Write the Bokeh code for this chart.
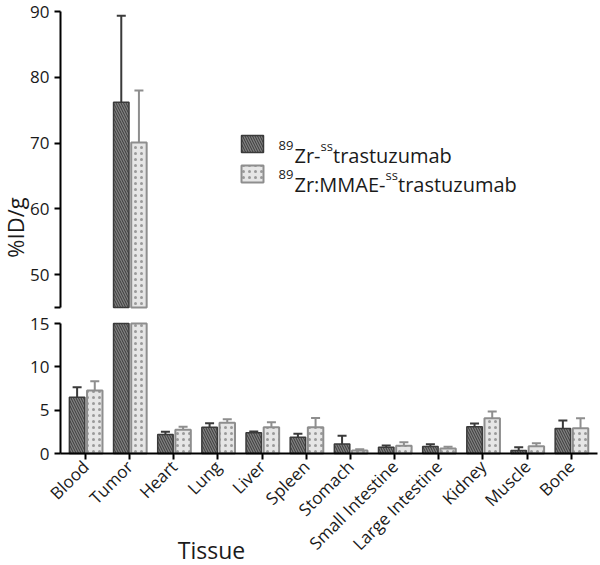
from math import pi
from bokeh.plotting import figure
from bokeh.models import (ColumnDataSource, FixedTicker, Whisker, TeeHead, Label,
                          BoxAnnotation, CDSView, BooleanFilter, Range1d)
from bokeh.transform import dodge
from bokeh.layouts import column
from bokeh.embed import file_html
from bokeh.resources import INLINE

# ---------------- data ----------------
tissues = ["Blood", "Tumor", "Heart", "Lung", "Liver", "Spleen", "Stomach",
           "Small Intestine", "Large Intestine", "Kidney", "Muscle", "Bone"]
zr_mean = [6.5, 76.2, 2.19, 3.04, 2.38, 1.88, 1.11, 0.73, 0.81, 3.08, 0.35, 2.88]
zr_sd = [1.15, 13.15, 0.31, 0.46, 0.16, 0.39, 0.93, 0.19, 0.26, 0.38, 0.38, 0.92]
mmae_mean = [7.27, 70.1, 2.73, 3.54, 3.04, 3.04, 0.35, 0.88, 0.58, 4.07, 0.85, 2.92]
mmae_sd = [1.08, 7.9, 0.35, 0.42, 0.56, 1.06, 0.15, 0.42, 0.19, 0.77, 0.34, 1.15]
upper_ticks = [45, 50, 60, 70, 80, 90]
lower_ticks = [0, 5, 10, 15]
upper_lim = (45, 90)
lower_lim = (0, 15)
legend1 = ["89", "Zr-", "ss", "trastuzumab"]
legend2 = ["89", "Zr:MMAE-", "ss", "trastuzumab"]
y_title = "%ID/g"
x_title = "Tissue"

FONT = "Open Sans"
TXT = "#1a1a1a"
DARK_FILL, DARK_LINE, DARK_HATCH = "#808080", "#3a3a3a", "#3a3a3a"
LIGHT_FILL, LIGHT_LINE, LIGHT_DOT = "#e6e6e6", "#8e8e8e", "#9a9a9a"

idx = list(range(len(tissues)))
src = ColumnDataSource(dict(
    idx=idx, tissue=tissues,
    zr=zr_mean, zr_top=[m + s for m, s in zip(zr_mean, zr_sd)],
    mm=mmae_mean, mm_top=[m + s for m, s in zip(mmae_mean, mmae_sd)],
    # bar tops as seen in the lower (0-15) segment of the broken axis
    zr_low=[min(m, lower_lim[1]) for m in zr_mean],
    mm_low=[min(m, lower_lim[1]) for m in mmae_mean],
))

# ---------------- layout (pixels) ----------------
W = 600
PX_X = 44.16                 # px per category
FIRST_X = 85                 # px of first category centre
AX_LEFT_PX, AX_RIGHT_PX = 60, 597
x_start = -FIRST_X / PX_X
x_end = x_start + W / PX_X
x_lo = x_start + AX_LEFT_PX / PX_X
x_hi = x_start + AX_RIGHT_PX / PX_X
x_range = Range1d(x_start, x_end)

TOP_H, U_TOP_PX, U_BOT_PX = 310, 11, 307      # upper canvas, y of 90 and 45
BOT_H, L_TOP_PX, L_BOT_PX = 255, 13, 143      # lower canvas, y of 15 and 0 (canvas-relative)
u_unit = (U_BOT_PX - U_TOP_PX) / (upper_lim[1] - upper_lim[0])
u_range = Range1d(upper_lim[0] - (TOP_H - U_BOT_PX) / u_unit,
                  upper_lim[1] + U_TOP_PX / u_unit)
l_unit = (L_BOT_PX - L_TOP_PX) / (lower_lim[1] - lower_lim[0])
l_range = Range1d(lower_lim[0] - (BOT_H - L_BOT_PX) / l_unit,
                  lower_lim[1] + L_TOP_PX / l_unit)

OFF_D, OFF_L, BW = -0.19, 0.21, 0.35


def draw(p, top_d, top_l, base, lo):
    view_d = CDSView(filter=BooleanFilter([m > lo for m in zr_mean]))
    view_l = CDSView(filter=BooleanFilter([m > lo for m in mmae_mean]))
    p.vbar(x=dodge("idx", OFF_D), top=top_d, bottom=base,
           width=BW, source=src, view=view_d, fill_color=DARK_FILL,
           line_color=DARK_LINE, line_width=1.5, hatch_pattern="\\",
           hatch_color=DARK_HATCH, hatch_scale=5, hatch_weight=1)
    p.vbar(x=dodge("idx", OFF_L), top=top_l, bottom=base,
           width=BW, source=src, view=view_l, fill_color=LIGHT_FILL,
           line_color=LIGHT_LINE, line_width=2, hatch_pattern=".",
           hatch_color=LIGHT_DOT, hatch_scale=6, hatch_weight=1.5)
    p.add_layout(Whisker(source=src, base=dodge("idx", OFF_D),
                         lower="zr", upper="zr_top", line_color=DARK_LINE,
                         line_width=2, lower_head=None,
                         upper_head=TeeHead(size=9, line_color=DARK_LINE, line_width=2)))
    p.add_layout(Whisker(source=src, base=dodge("idx", OFF_L),
                         lower="mm", upper="mm_top", line_color=LIGHT_LINE,
                         line_width=2, lower_head=None,
                         upper_head=TeeHead(size=9, line_color=LIGHT_LINE, line_width=2)))


def style(p, ticks, lim):
    p.grid.grid_line_color = None
    p.outline_line_color = None
    p.yaxis.ticker = FixedTicker(ticks=ticks)
    p.yaxis.bounds = lim
    p.yaxis.fixed_location = x_lo
    for ax in p.axis:
        ax.axis_line_width = 2
        ax.axis_line_color = "black"
        ax.major_tick_line_width = 2
        ax.major_tick_line_color = "black"
        ax.major_tick_out = 6
        ax.major_tick_in = 0
        ax.minor_tick_line_color = None
        ax.major_label_text_font = FONT
        ax.major_label_text_font_size = "17px"
        ax.major_label_text_color = TXT


# ---------- upper panel (45-90) ----------
top = figure(x_range=x_range, y_range=u_range, frame_width=W, frame_height=TOP_H,
             min_border=0, x_axis_location=None,
             output_backend="svg", toolbar_location=None)
draw(top, "zr", "mm", upper_lim[0], upper_lim[0])
style(top, upper_ticks, upper_lim)
top.yaxis.major_label_overrides = {45: ""}

# ---------- lower panel (0-15) ----------
bot = figure(x_range=x_range, y_range=l_range, frame_width=W, frame_height=BOT_H,
             min_border=0, output_backend="svg", toolbar_location=None)
draw(bot, "zr_low", "mm_low", lower_lim[0], -1)
style(bot, lower_ticks, lower_lim)
bot.xaxis.ticker = FixedTicker(ticks=idx)
bot.xaxis.major_label_overrides = {i: t for i, t in zip(idx, tissues)}
bot.xaxis.bounds = (x_lo, x_hi)
bot.xaxis.fixed_location = 0
bot.xaxis.major_label_orientation = pi / 4
bot.xaxis.major_label_standoff = 4

# titles
bot.add_layout(Label(x=211, y=16, x_units="screen", y_units="screen", text=x_title,
                     text_align="center", text_baseline="alphabetic",
                     text_font=FONT, text_font_size="23px", text_color=TXT,
                     level="overlay"))
top.add_layout(Label(x=14, y=TOP_H - 227, x_units="screen", y_units="screen",
                     text=y_title, angle=pi / 2, text_align="center",
                     text_baseline="middle", text_font=FONT,
                     text_font_size="22px", text_color=TXT, level="overlay"))

# ---------- legend ----------
top.add_layout(BoxAnnotation(left=241, right=263, bottom=158, top=175,
                             left_units="screen", right_units="screen",
                             bottom_units="screen", top_units="screen",
                             fill_color=DARK_FILL, fill_alpha=1, line_color=DARK_LINE,
                             line_width=1.5, line_alpha=1, hatch_pattern="\\",
                             hatch_color=DARK_HATCH, hatch_scale=5, hatch_weight=1,
                             level="overlay"))
top.add_layout(BoxAnnotation(left=241, right=263, bottom=128, top=145,
                             left_units="screen", right_units="screen",
                             bottom_units="screen", top_units="screen",
                             fill_color=LIGHT_FILL, fill_alpha=1, line_color=LIGHT_LINE,
                             line_width=2, line_alpha=1, hatch_pattern=".",
                             hatch_color=LIGHT_DOT, hatch_scale=6, hatch_weight=1.5,
                             level="overlay"))


def legend_line(parts, xs, base_y):
    for i, (t, x) in enumerate(zip(parts, xs)):
        sup = i % 2 == 0
        top.add_layout(Label(x=x, y=base_y + (10 if sup else 0), x_units="screen",
                             y_units="screen", text=t, text_align="left",
                             text_baseline="alphabetic", text_font=FONT,
                             text_font_size="13px" if sup else "20px",
                             text_color=TXT, level="overlay"))


legend_line(legend1, [278, 294, 320, 332.5], 155)
legend_line(legend2, [278, 294, 385, 397.5], 126)

layout = column(top, bot)
open("out.html", "w").write(file_html(layout, INLINE))
